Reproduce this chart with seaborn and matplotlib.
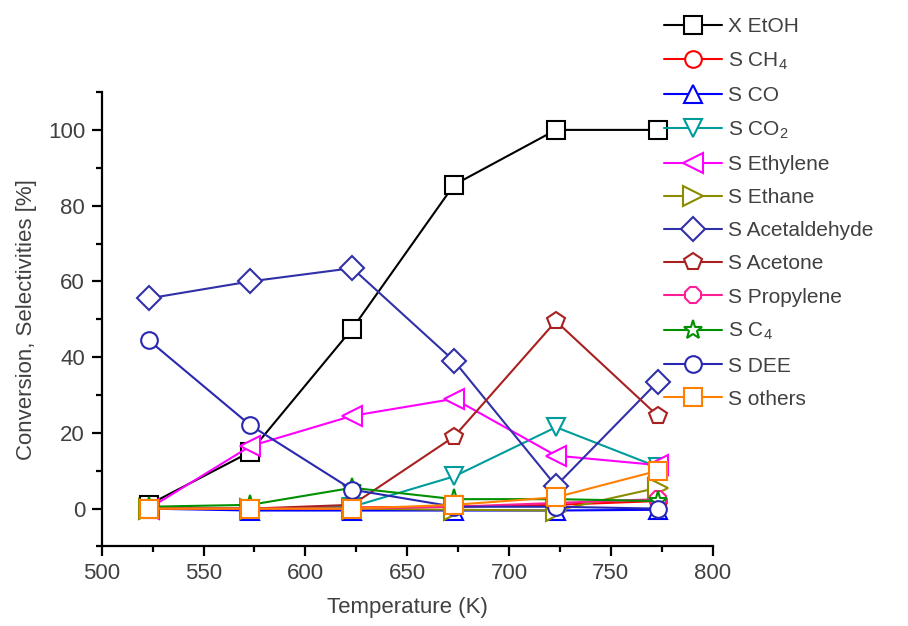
import matplotlib
matplotlib.use("Agg")
import matplotlib.pyplot as plt
from matplotlib.ticker import MultipleLocator
import seaborn as sns
import pandas as pd

sns.set_theme(style="ticks")
plt.rcParams["font.family"] = ["Liberation Sans", "DejaVu Sans"]
plt.rcParams["mathtext.fontset"] = "custom"
plt.rcParams["mathtext.rm"] = "Liberation Sans"

temperature = [523, 573, 623, 673, 723, 773]

x_etoh = [1.0, 15.0, 47.5, 85.5, 100.0, 100.0]
s_ch4 = [0.0, 0.0, 0.3, 0.5, 1.0, 2.0]
s_co = [0.0, -0.5, -0.5, -0.5, -0.5, -0.3]
s_co2 = [0.0, 0.0, 0.5, 8.5, 21.5, 11.0]
s_ethylene = [0.0, 16.5, 24.5, 29.0, 14.0, 11.5]
s_ethane = [0.0, 0.0, 0.0, -0.3, -0.5, 5.5]
s_acetaldehyde = [55.5, 60.0, 63.5, 39.0, 6.0, 33.5]
s_acetone = [0.0, 0.0, 1.0, 19.0, 49.5, 24.5]
s_propylene = [0.0, 0.0, 0.0, 0.5, 1.5, 2.5]
s_c4 = [0.5, 1.0, 5.5, 2.5, 2.5, 2.0]
s_dee = [44.5, 22.0, 5.0, 0.5, 0.5, 0.0]
s_others = [0.0, 0.0, 0.0, 1.0, 3.0, 10.0]

labels = ["X EtOH", "S CH$_4$", "S CO", "S CO$_2$", "S Ethylene", "S Ethane",
          "S Acetaldehyde", "S Acetone", "S Propylene", "S C$_4$", "S DEE", "S others"]
values = [x_etoh, s_ch4, s_co, s_co2, s_ethylene, s_ethane,
          s_acetaldehyde, s_acetone, s_propylene, s_c4, s_dee, s_others]
colors = ["#000000", "#ff0000", "#0000ff", "#009c9c", "#ff00ff", "#8c8c00",
          "#3030a8", "#a82020", "#ff1e96", "#009000", "#2828b0", "#ff8000"]
markers = ["s", "o", "^", "v", "<", ">", "D", "p", "8", "*", "o", "s"]
sizes = [13, 12, 13, 13, 14, 14, 12, 13, 13, 14, 12, 13]

df = pd.DataFrame({"T": temperature})
for lab, vals in zip(labels, values):
    df[lab] = vals

fig = plt.figure(figsize=(9.08, 6.26), dpi=100)
ax = fig.add_axes([0.112, 0.127, 0.673, 0.726])

text_color = "#404040"
for lab, col, mk, ms in zip(labels, colors, markers, sizes):
    sns.lineplot(data=df, x="T", y=lab, ax=ax, color=col, marker=mk,
                 markersize=ms, markerfacecolor="white", markeredgecolor=col,
                 markeredgewidth=1.5, linewidth=1.5, label=lab)

ax.set_xlim(500, 800)
ax.set_ylim(-10, 110)
ax.xaxis.set_major_locator(MultipleLocator(50))
ax.xaxis.set_minor_locator(MultipleLocator(25))
ax.yaxis.set_major_locator(MultipleLocator(20))
ax.yaxis.set_minor_locator(MultipleLocator(10))
ax.set_yticks([0, 20, 40, 60, 80, 100])

for s in ["top", "right"]:
    ax.spines[s].set_visible(False)
for s in ["left", "bottom"]:
    ax.spines[s].set_color("#000000")
    ax.spines[s].set_linewidth(1.6)

ax.tick_params(axis="both", which="major", direction="out", length=7, width=1.6,
               colors="#000000", labelcolor=text_color, labelsize=16, pad=5)
ax.tick_params(axis="both", which="minor", direction="out", length=4, width=1.6,
               colors="#000000")

ax.set_xlabel("Temperature (K)", fontsize=16, color=text_color, labelpad=9)
ax.set_ylabel("Conversion, Selectivities [%]", fontsize=16, color=text_color, labelpad=8)

handles, labs = ax.get_legend_handles_labels()
ax.get_legend().remove()
leg = fig.legend(handles, labs, loc="upper left", bbox_to_anchor=(0.722, 0.986),
                 frameon=False, fontsize=15, handlelength=2.8, handletextpad=0.3,
                 labelspacing=0.68, borderaxespad=0)
for t in leg.get_texts():
    t.set_color(text_color)

fig.savefig("out.png", dpi=100)
